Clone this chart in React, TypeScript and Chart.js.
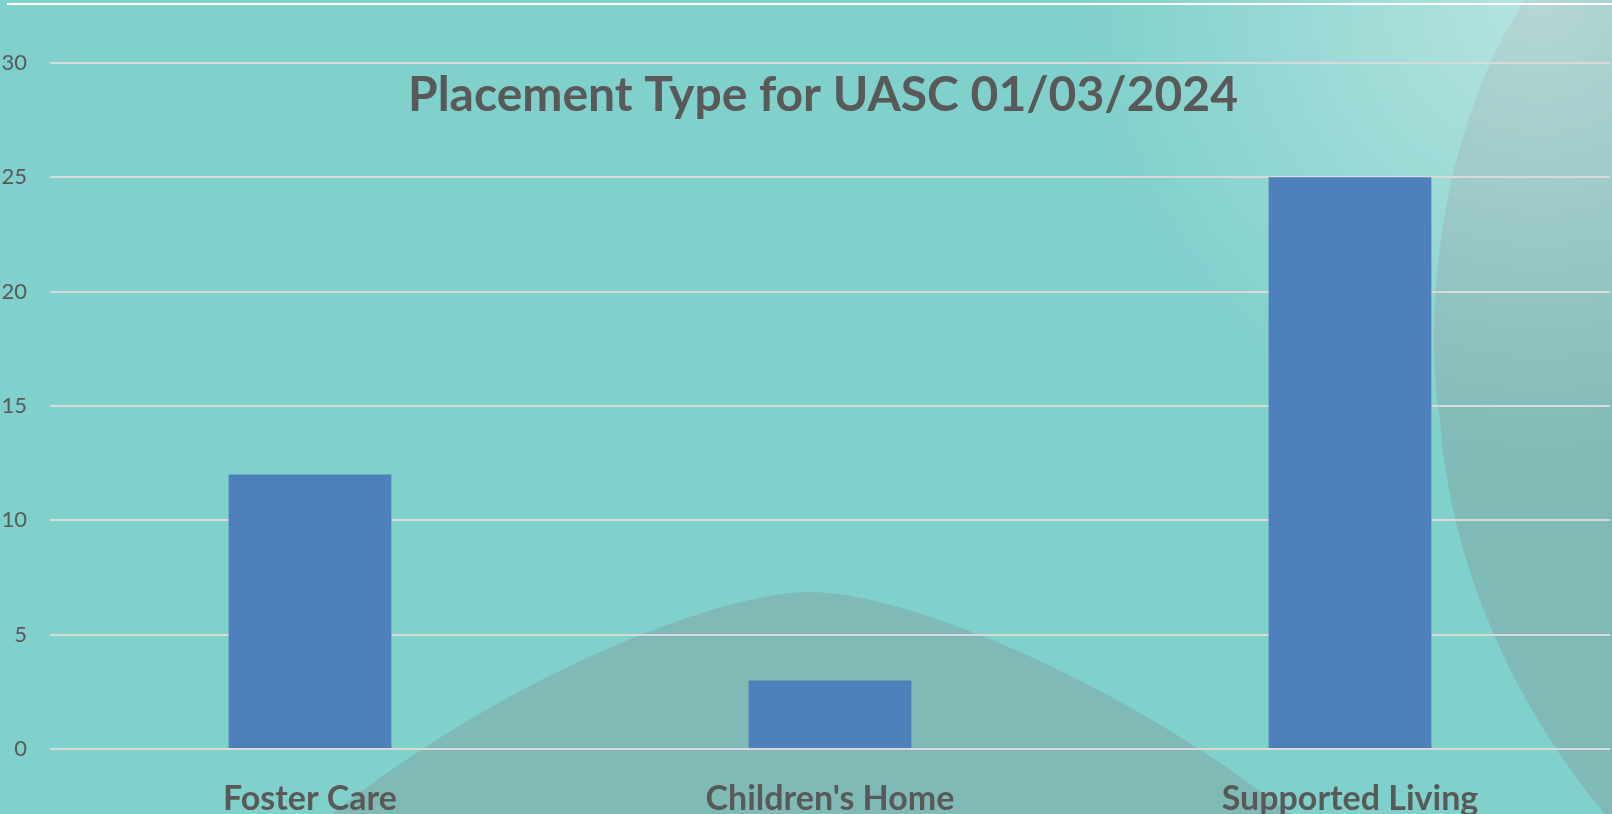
import React, { useEffect, useRef } from "react";
import { Chart, registerables } from "chart.js";

Chart.register(...registerables);

const categories = ["Foster Care", "Children's Home", "Supported Living"];
const placements = [12, 3, 25];
const yTicks = [0, 5, 10, 15, 20, 25, 30];
const chartTitle = "Placement Type for UASC 01/03/2024";

const W = 1612;
const H = 814;

const backgroundPlugin = {
  id: "slideBackground",
  beforeDraw(chart: any) {
    const ctx = chart.ctx as CanvasRenderingContext2D;
    ctx.save();
    ctx.fillStyle = "#80D0CB";
    ctx.fillRect(0, 0, W, H);

    // bottom decorative hill
    ctx.beginPath();
    ctx.moveTo(300, 840);
    ctx.lineTo(332, 814);
    ctx.bezierCurveTo(500, 680, 715, 592, 810, 592);
    ctx.bezierCurveTo(905, 592, 1120, 680, 1290, 814);
    ctx.lineTo(1320, 840);
    ctx.closePath();
    ctx.fillStyle = "rgba(128,128,128,0.27)";
    ctx.fill();

    // right decorative shape
    ctx.beginPath();
    ctx.moveTo(1525, 0);
    ctx.bezierCurveTo(1445, 120, 1422, 300, 1440, 420);
    ctx.bezierCurveTo(1450, 560, 1510, 700, 1605, 814);
    ctx.lineTo(W, H);
    ctx.lineTo(W, 0);
    ctx.closePath();
    ctx.fillStyle = "rgba(128,128,128,0.27)";
    ctx.fill();

    // top-right highlight
    const g = ctx.createRadialGradient(1540, 0, 0, 1540, 0, 460);
    g.addColorStop(0, "rgba(255,255,255,0.42)");
    g.addColorStop(1, "rgba(255,255,255,0)");
    ctx.fillStyle = g;
    ctx.fillRect(0, 0, W, H);

    // top white rule
    ctx.fillStyle = "#FFFFFF";
    ctx.fillRect(7, 3, W - 7, 2);
    ctx.restore();
  },
};

const titlePlugin = {
  id: "innerTitle",
  afterDatasetsDraw(chart: any) {
    const ctx = chart.ctx as CanvasRenderingContext2D;
    ctx.save();
    ctx.font = "bold 48px Lato";
    ctx.fillStyle = "#595959";
    ctx.textAlign = "center";
    ctx.textBaseline = "alphabetic";
    ctx.fillText(chartTitle, 823, 111);
    ctx.restore();
  },
};

export default function App() {
  const ref = useRef<HTMLCanvasElement>(null);

  useEffect(() => {
    document.body.style.margin = "0";
    document.body.style.overflow = "hidden";
    const canvas = ref.current!;
    const chart = new Chart(canvas, {
      type: "bar",
      data: {
        labels: categories,
        datasets: [
          {
            data: placements,
            backgroundColor: "#4E80BC",
            borderWidth: 0,
            barPercentage: 0.313,
            categoryPercentage: 1,
          },
        ],
      },
      options: {
        animation: false,
        responsive: false,
        maintainAspectRatio: false,
        devicePixelRatio: 1,
        layout: { padding: { top: 63, right: 2, left: 0, bottom: 0 } },
        plugins: {
          legend: { display: false },
          title: { display: false },
          tooltip: { enabled: false },
        },
        scales: {
          x: {
            grid: { display: false, drawTicks: false },
            border: { display: false },
            ticks: {
              color: "#595959",
              font: { family: "Lato", size: 34, weight: "bold" },
              padding: 30,
              maxRotation: 0,
            },
            afterFit(scale: any) {
              scale.height = 65;
            },
          },
          y: {
            min: 0,
            max: 30,
            afterBuildTicks(scale: any) {
              scale.ticks = yTicks.map((v) => ({ value: v }));
            },
            grid: { color: "#D9D9D9", lineWidth: 2, drawTicks: false },
            border: { display: false },
            ticks: {
              color: "#595959",
              font: { family: "Lato", size: 22 },
              padding: 23,
            },
            afterFit(scale: any) {
              scale.width = 50;
            },
          },
        },
      },
      plugins: [backgroundPlugin, titlePlugin],
    });
    if ((document as any).fonts) {
      (document as any).fonts.load("bold 48px Lato").then(() => chart.update());
    }
    return () => chart.destroy();
  }, []);

  return (
    <div style={{ width: W, height: H }}>
      <canvas ref={ref} width={W} height={H} style={{ display: "block" }} />
    </div>
  );
}
